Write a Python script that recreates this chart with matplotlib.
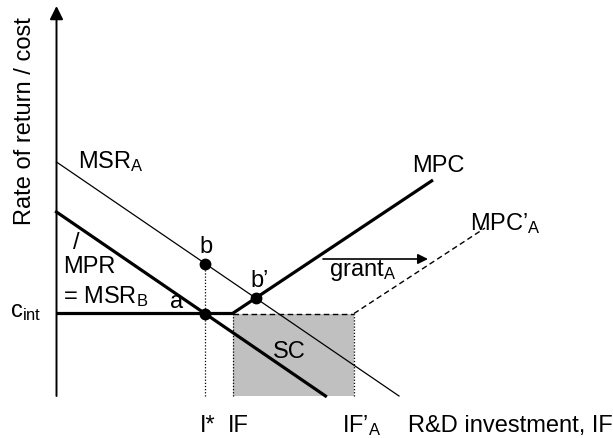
import numpy as np
import matplotlib
matplotlib.use('Agg')
import matplotlib.pyplot as plt

plt.rcParams['font.family'] = ['Liberation Sans', 'DejaVu Sans']
plt.rcParams['mathtext.fontset'] = 'custom'
plt.rcParams['mathtext.rm'] = 'Liberation Sans'
plt.rcParams['mathtext.it'] = 'Liberation Sans:italic'

# Key levels (arbitrary units)
c_int = 8.25        # interest cost level
I_star = 14.85      # private optimum I*
IF = 17.6           # internal funds limit
IF_A = 29.75        # internal funds + grant

# Schedules: [x0, x1], [y0, y1]
msr_a_x = [0, 34.25]
msr_a_y = [23.4, 0]
mpr_x = [0, 26.9]
mpr_y = [18.4, 0]
mpc_x = [0, IF, 37.65]
mpc_y = [c_int, c_int, 21.6]
mpc_a_x = [IF_A, 42.85]
mpc_a_y = [c_int, 16.8]

# Marked points
pt_x = [I_star, I_star, 19.9]
pt_y = [c_int, 13.2, 9.8]

# grant shift arrow
grant_x = [26.65, 37.15]
grant_y = 13.7

x_max, y_max = 56.05, 39.0

fig = plt.figure(figsize=(6.13, 4.39), dpi=100)
ax = fig.add_axes([0, 0, 1, 1])
ax.set_xlim(-5.65, 55.65)
ax.set_ylim(-4.2, 39.7)
ax.axis('off')

# axes with arrows
ax.annotate('', xy=(0, y_max), xytext=(0, 0),
            arrowprops=dict(arrowstyle='-|>', lw=1.4, color='black',
                            mutation_scale=20, shrinkA=0, shrinkB=0))
ax.annotate('', xy=(x_max, 0), xytext=(0, 0),
            arrowprops=dict(arrowstyle='-|>', lw=1.4, color='black',
                            mutation_scale=20, shrinkA=0, shrinkB=0))

# shaded SC area
ax.fill_between([IF, IF_A], 0, c_int, color='#c0c0c0', lw=0, zorder=1)
ax.plot([IF, IF_A], [c_int, c_int], color='black', lw=1.0, ls=(0, (4, 2.5)), zorder=2)
ax.plot([IF_A, IF_A], [0, c_int], color='black', lw=0.9, ls=(0, (1, 1.5)), zorder=2)
ax.plot([IF, IF], [0, c_int], color='black', lw=0.9, ls=(0, (1, 1.5)), zorder=2)
ax.plot([I_star, I_star], [0, pt_y[1]], color='black', lw=0.9, ls=(0, (1, 1.5)), zorder=2)

# schedules
ax.plot(msr_a_x, msr_a_y, color='black', lw=0.9, zorder=3)
ax.plot(mpr_x, mpr_y, color='black', lw=2.3, zorder=3)
ax.plot(mpc_x, mpc_y, color='black', lw=2.3, zorder=3, solid_capstyle='butt')
ax.plot(mpc_a_x, mpc_a_y, color='black', lw=1.0, ls=(0, (4, 2.5)), zorder=3)

ax.plot(pt_x, pt_y, 'o', color='black', ms=7.5, zorder=4)

ax.annotate('', xy=(grant_x[1], grant_y), xytext=(grant_x[0], grant_y),
            arrowprops=dict(arrowstyle='-|>', lw=1.2, color='black',
                            mutation_scale=15, shrinkA=0, shrinkB=0))

fs = 17
txt = dict(fontsize=fs, va='baseline', ha='left', color='black')
ax.text(-3.15, 27.6, 'Rate of return / cost', fontsize=fs, rotation=90,
        ha='center', va='center')
ax.text(2.15, 22.9, r'MSR$_\mathrm{A}$', **txt)
ax.text(1.95, 15.35, '/', fontsize=fs, ha='center', va='center')
ax.text(0.65, 12.4, 'MPR', **txt)
ax.text(0.65, 9.4, r'= MSR$_\mathrm{B}$', **txt)
ax.text(11.35, 8.9, 'a', **txt)
ax.text(14.9, 14.4, 'b', fontsize=fs, va='baseline', ha='center')
ax.text(19.35, 11.0, 'b\u2019', **txt)
ax.text(-4.65, 8.0, r'c$_\mathrm{int}$', **txt)
ax.text(21.65, 3.9, 'SC', **txt)
ax.text(35.55, 22.5, 'MPC', **txt)
ax.text(41.35, 16.7, r'MPC’$_\mathrm{A}$', **txt)
ax.text(27.25, 12.1, r'grant$_\mathrm{A}$', **txt)
ax.text(14.35, -3.5, 'I*', **txt)
ax.text(17.15, -3.5, 'IF', **txt)
ax.text(28.55, -3.5, r'IF’$_\mathrm{A}$', **txt)
ax.text(35.15, -3.5, 'R&D investment, IF', **txt)

fig.savefig('out.png', dpi=100)
